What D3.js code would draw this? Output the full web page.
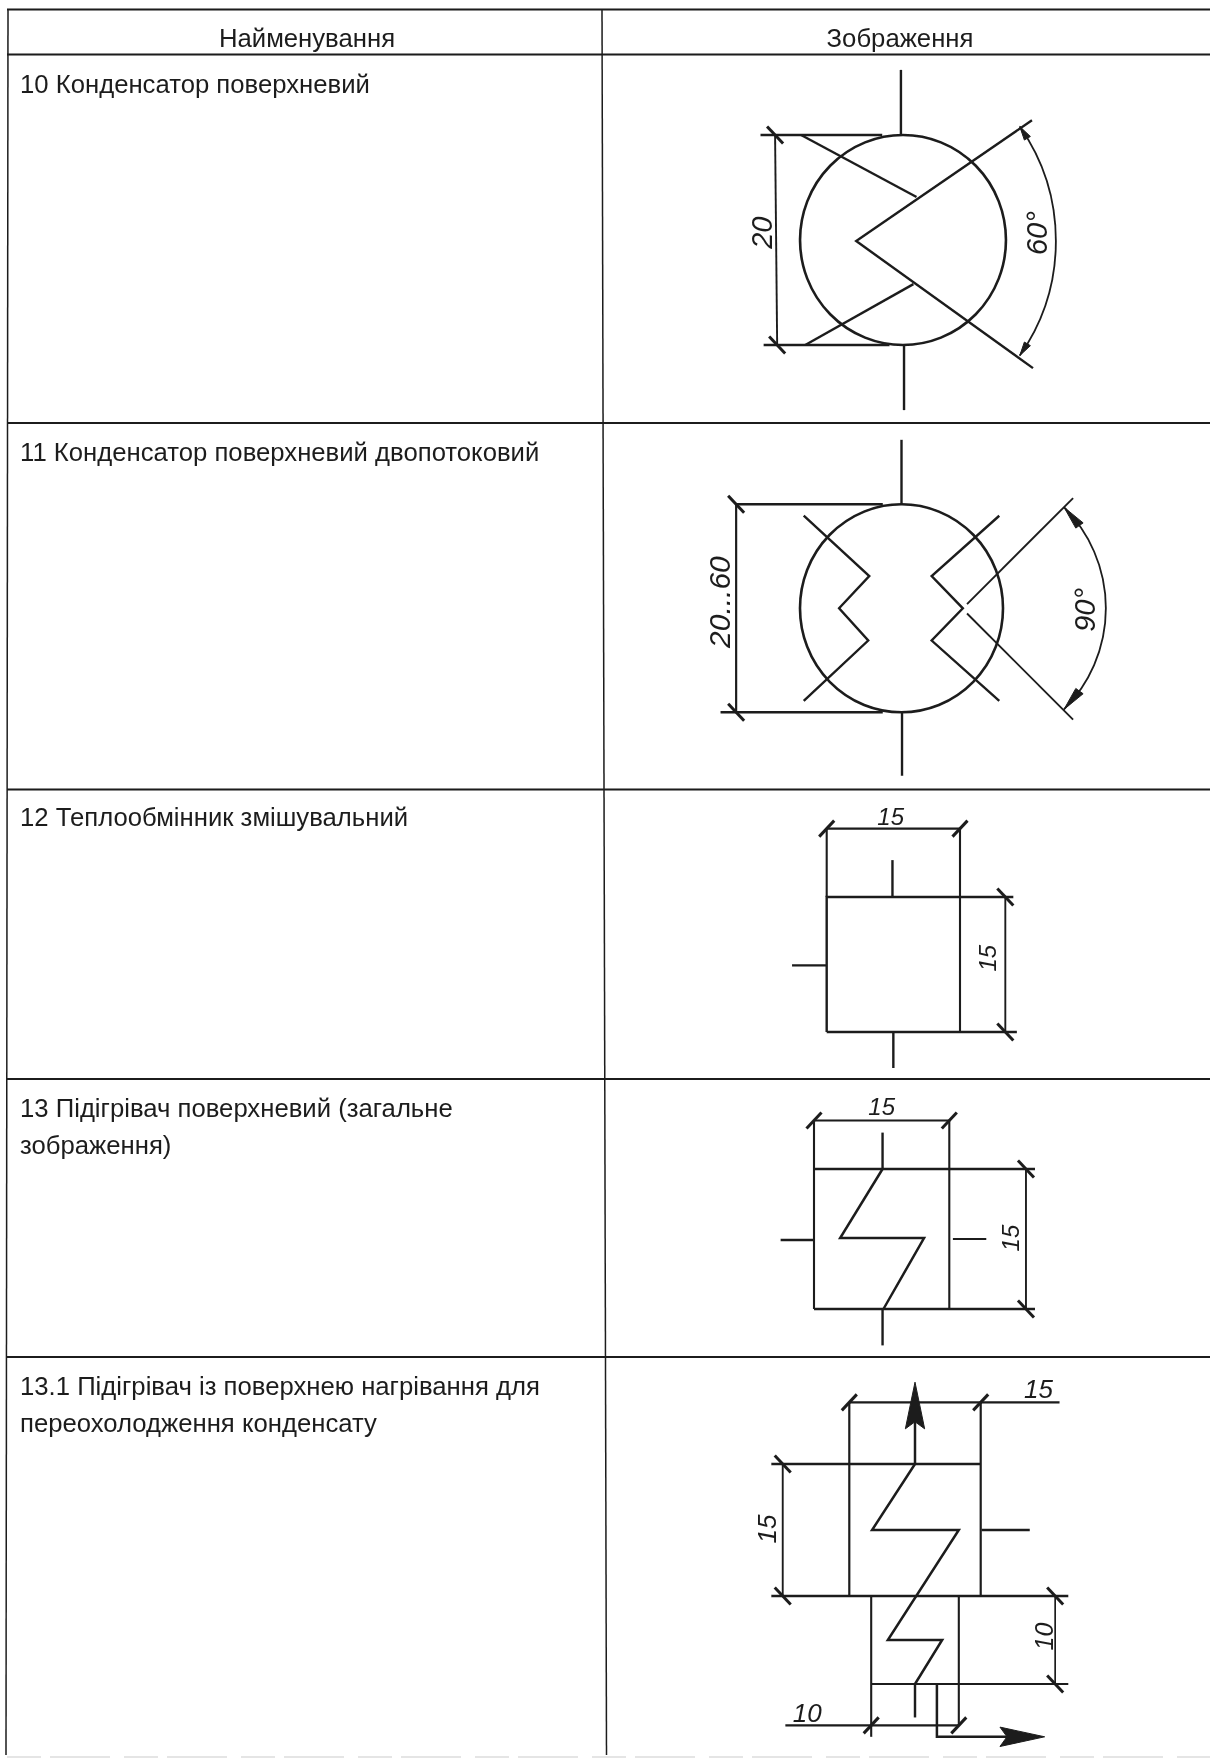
<!DOCTYPE html>
<html>
<head>
  <meta charset="utf-8">
  <title>Конденсатори та підігрівачі</title>
  <script src="https://d3js.org/d3.v7.min.js"></script>
  <style>
    html, body { margin: 0; background: #fff; }
    text { font-family: "Liberation Sans", Arial, sans-serif; fill: #1c1c1c; }
    .dim { font-style: italic; text-anchor: middle; dominant-baseline: central; }
  </style>
</head>

<body>
  <script>
    // table content
    const headers = ["Найменування", "Зображення"];
    const rowNames = [
      ["10 Конденсатор поверхневий"],
      ["11 Конденсатор поверхневий двопотоковий"],
      ["12 Теплообмінник змішувальний"],
      ["13 Підігрівач поверхневий (загальне", "зображення)"],
      ["13.1 Підігрівач із поверхнею нагрівання для", "переохолодження конденсату"]
    ];

    // dimension labels written on the drawings
    const dims10 = ["20", "60°"];
    const dims11 = ["20...60", "90°"];
    const dims12 = ["15", "15"];
    const dims13 = ["15", "15"];
    const dims131 = ["15", "15", "10", "10"];

    const width = 1210, height = 1759;
    const ink = "#1c1c1c";

    let svg = d3.select("body").append("svg")
      .attr("width", width)
      .attr("height", height)
      .style("display", "block");

    // scan softness
    svg.append("defs").append("filter")
      .attr("id", "soft")
      .append("feGaussianBlur")
      .attr("stdDeviation", 0.45);

    let root = svg.append("g").attr("filter", "url(#soft)");

    // ---- table grid ----
    const rowEdges = [54.5, 423, 789.5, 1079, 1357];

    let grid = root.append("g").attr("stroke", ink).attr("fill", "none");
    grid.append("line").attr("x1", 7).attr("x2", 1210).attr("y1", 9.5).attr("y2", 9.5).attr("stroke-width", 1.8);
    grid.selectAll(".row")
      .data(rowEdges)
      .enter()
      .append("line")
      .attr("class", "row")
      .attr("x1", 7).attr("x2", 1210)
      .attr("y1", d => d).attr("y2", d => d)
      .attr("stroke-width", 2);
    grid.append("line").attr("x1", 8).attr("x2", 6).attr("y1", 9).attr("y2", 1755).attr("stroke-width", 1.5);
    grid.append("line").attr("x1", 602).attr("x2", 606.5).attr("y1", 9).attr("y2", 1755).attr("stroke-width", 1.5);
    grid.append("line").attr("x1", 7).attr("x2", 1210).attr("y1", 1757).attr("y2", 1757)
      .attr("stroke-width", 1.2).attr("stroke", "#ccc").attr("stroke-dasharray", "34 9 60 14");

    // header and row text
    const textSize = 25.7, lineStep = 36.5;
    let headerX = [307, 900];
    root.selectAll(".head")
      .data(headers)
      .enter()
      .append("text")
      .attr("class", "head")
      .attr("x", (d, i) => headerX[i])
      .attr("y", 46.5)
      .attr("text-anchor", "middle")
      .style("font-size", textSize + "px")
      .text(d => d);

    let nameY = [93, 461, 826, 1117, 1395];
    rowNames.forEach((lines, i) => {
      root.selectAll(".name" + i)
        .data(lines)
        .enter()
        .append("text")
        .attr("class", "name" + i)
        .attr("x", 20)
        .attr("y", (d, j) => nameY[i] + j * lineStep)
        .style("font-size", textSize + "px")
        .text(d => d);
    });

    // ---- drawing helpers ----
    let line = d3.line();

    // one symbol: x/y scales map drawing millimetres to the page
    function symbol(xDomain, xRange, yDomain, yRange) {
      let x = d3.scaleLinear().domain(xDomain).range(xRange);
      let y = d3.scaleLinear().domain(yDomain).range(yRange);
      let g = root.append("g").attr("fill", "none").attr("stroke", ink).attr("stroke-linejoin", "miter");
      return {
        x: x, y: y, g: g,
        poly(pts, w) {
          g.append("path")
            .attr("d", line(pts.map(p => [x(p[0]), y(p[1])])))
            .attr("stroke-width", w || 2.4);
        },
        body(rx, ry) {
          g.append("ellipse")
            .attr("cx", x(0)).attr("cy", y(0))
            .attr("rx", x(rx) - x(0)).attr("ry", y(ry) - y(0))
            .attr("stroke-width", 2.6);
        },
        // dimension slash
        tick(mx, my, s) {
          let px = x(mx), py = y(my);
          let a = s > 0 ? [[px - 8, py - 8.5], [px + 8, py + 8.5]] : [[px - 7.5, py + 8], [px + 7.5, py - 8]];
          g.append("path").attr("d", line(a)).attr("stroke-width", 3);
        },
        label(txt, mx, my, size, rotate) {
          let px = x(mx), py = y(my);
          root.append("text")
            .attr("class", "dim")
            .attr("transform", "translate(" + px + "," + py + ")" + (rotate ? " rotate(-90)" : ""))
            .style("font-size", size + "px")
            .text(txt);
        },
        arrow(pts) {
          g.append("path")
            .attr("d", line(pts.map(p => [x(p[0]), y(p[1])])) + "Z")
            .attr("fill", ink)
            .attr("stroke-width", 1);
        }
      };
    }

    // angular dimension with arrowheads lying along the arc
    function angleDim(s, cx, cy, radius, halfDeg, headLen, headW) {
      let k = s.x(1) - s.x(0);
      let half = halfDeg * Math.PI / 180;
      let r = k * radius;
      let arc = d3.arc()
        .innerRadius(r)
        .outerRadius(r)
        .startAngle(Math.PI / 2 - half)
        .endAngle(Math.PI / 2 + half);
      s.g.append("path")
        .attr("transform", "translate(" + s.x(cx) + "," + s.y(cy) + ")")
        .attr("d", arc())
        .attr("stroke-width", 1.8);
      [-1, 1].forEach(sign => {
        let a0 = sign * half;
        let a1 = a0 - sign * headLen / r;
        let tip = [s.x(cx) + r * Math.cos(a0), s.y(cy) + r * Math.sin(a0)];
        let bx = s.x(cx) + r * Math.cos(a1), by = s.y(cy) + r * Math.sin(a1);
        let nx = Math.cos(a1), ny = Math.sin(a1);
        s.g.append("path")
          .attr("d", line([tip, [bx + nx * headW, by + ny * headW], [bx - nx * headW, by - ny * headW]]) + "Z")
          .attr("fill", ink)
          .attr("stroke-width", 1);
      });
    }

    // ---- 10 ----
    let s10 = symbol([-10, 10], [799, 1007], [-10, 10], [135, 345]);
    s10.body(9.9, 10);
    s10.poly([[-0.2, -16.2], [-0.2, -10]]);
    s10.poly([[0.1, 10], [0.1, 16.2]]);
    s10.poly([[12.4, -11.4], [-4.5, 0.1], [12.5, 12.2]]);
    s10.poly([[-9.8, -10], [1.3, -4.1]]);
    s10.poly([[-9.4, 10], [1, 4.2]]);
    s10.poly([[-13.7, -10], [-2, -10]]);
    s10.poly([[-13.4, 10], [-1.3, 10]]);
    s10.poly([[-12.3, -10], [-12.1, 10]], 1.9);
    s10.tick(-12.3, -10, 1);
    s10.tick(-12.1, 10, 1);
    angleDim(s10, -4.5, 0.1, 19.2, 35, 14, 3.5);
    s10.label(dims10[0], -13.6, -0.7, 29, true);
    s10.label(dims10[1], 12.9, -0.65, 29, true);

    // ---- 11 ----
    let s11 = symbol([-10, 10], [797.5, 1005.5], [-10, 10], [504.3, 712.3]);
    s11.body(9.76, 10);
    s11.poly([[0, -16.2], [0, -10]]);
    s11.poly([[0.05, 10], [0.05, 16.1]]);
    s11.poly([[-15.9, -10], [-1.8, -10]]);
    s11.poly([[-17.4, 10], [-1.8, 10]]);
    s11.poly([[-15.9, -10], [-15.9, 10]], 2.2);
    s11.tick(-15.9, -10, 1);
    s11.tick(-15.9, 10, 1);
    s11.poly([[-9.4, -8.9], [-3.1, -3.1], [-6, 0], [-3.2, 3.1], [-9.4, 8.9]]);
    s11.poly([[9.4, -8.9], [2.9, -3.1], [5.9, 0], [2.9, 3.1], [9.4, 8.9]]);
    s11.poly([[6.3, -0.4], [16.5, -10.6]], 1.9);
    s11.poly([[6.3, 0.5], [16.5, 10.7]], 1.9);
    angleDim(s11, 5.9, 0, 13.75, 45, 24, 4.5);
    s11.label(dims11[0], -17.5, -0.6, 30, true);
    s11.label(dims11[1], 17.6, 0.15, 29, true);

    // ---- 12 ----
    let s12 = symbol([0, 15], [826.7, 960], [0, 15], [897, 1032]);
    s12.poly([[0, 15], [0, 0], [21, 0]]);
    s12.poly([[0, 15], [21.4, 15]]);
    s12.poly([[0, -7.6], [0, 0]], 2.1);
    s12.poly([[15, -7.6], [15, 15]], 2.1);
    s12.poly([[0, -7.6], [15, -7.6]], 2.1);
    s12.poly([[20.1, 0], [20.1, 15]], 1.9);
    s12.tick(0, -7.6, -1);
    s12.tick(15, -7.6, -1);
    s12.tick(20.1, 0, 1);
    s12.tick(20.1, 15, 1);
    s12.poly([[7.4, -4.1], [7.4, 0]]);
    s12.poly([[7.5, 15], [7.5, 19]]);
    s12.poly([[-3.9, 7.6], [0, 7.6]]);
    s12.label(dims12[0], 7.2, -9, 24, false);
    s12.label(dims12[1], 18.1, 6.8, 24, true);

    // ---- 13 ----
    let s13 = symbol([0, 15], [814, 949.3], [0, 15], [1169, 1309]);
    s13.poly([[0, 0], [24.5, 0]]);
    s13.poly([[0, 15], [24.5, 15]]);
    s13.poly([[0, -5.2], [0, 15]], 2.1);
    s13.poly([[15, -5.2], [15, 15]], 2.1);
    s13.poly([[0, -5.2], [15, -5.2]], 2.1);
    s13.poly([[23.5, 0], [23.5, 15]], 1.9);
    s13.tick(0, -5.2, -1);
    s13.tick(15, -5.2, -1);
    s13.tick(23.5, 0, 1);
    s13.tick(23.5, 15, 1);
    s13.poly([[7.6, -3.9], [7.6, 0]]);
    s13.poly([[7.6, 15], [7.6, 18.9]]);
    s13.poly([[-3.7, 7.6], [0, 7.6]]);
    s13.poly([[15.4, 7.5], [19.1, 7.5]], 1.9);
    s13.poly([[7.6, 0], [2.9, 7.4], [12.2, 7.4], [7.7, 15]], 2.5);
    s13.label(dims13[0], 7.5, -6.7, 24, false);
    s13.label(dims13[1], 21.8, 7.4, 24, true);

    // ---- 13.1 ----
    let s131 = symbol([0, 15], [849.3, 980.7], [0, 15], [1464, 1596]);
    s131.poly([[-8.9, 0], [15, 0]]);
    s131.poly([[-8.9, 15], [25, 15]]);
    s131.poly([[0, -7], [0, 15]], 2.2);
    s131.poly([[15, -7], [15, 15]], 2.2);
    s131.poly([[0, -7], [24, -7]], 2.1);
    s131.poly([[-7.6, 0], [-7.6, 15]], 1.9);
    s131.poly([[2.5, 15], [2.5, 31]], 2.1);
    s131.poly([[12.5, 15], [12.5, 29.7]], 2.1);
    s131.poly([[2.5, 25], [25, 25]], 2);
    s131.poly([[23.5, 15], [23.5, 25]], 1.7);
    s131.poly([[-7.3, 29.7], [12.5, 29.7]], 2.1);
    s131.tick(0, -7, -1);
    s131.tick(15, -7, -1);
    s131.tick(-7.6, 0, 1);
    s131.tick(-7.6, 15, 1);
    s131.tick(23.5, 15, 1);
    s131.tick(23.5, 25, 1);
    s131.tick(2.5, 29.7, -1);
    s131.tick(12.5, 29.7, -1);
    s131.poly([[7.5, 0], [2.6, 7.5], [12.5, 7.5], [4.4, 20], [10.6, 20], [7.5, 25]], 2.5);
    s131.poly([[7.5, 25], [7.5, 28.8]]);
    s131.poly([[7.5, 0], [7.5, -5]], 2.5);
    s131.arrow([[7.5, -9.3], [8.6, -4], [7.5, -4.8], [6.4, -4]]);
    s131.poly([[15.1, 7.5], [20.6, 7.5]]);
    s131.poly([[10, 25], [10, 31], [18, 31]], 2.5);
    s131.arrow([[22.3, 31], [17.2, 32.1], [18, 31], [17.2, 29.9]]);
    s131.label(dims131[0], 21.6, -8.5, 26, false);
    s131.label(dims131[1], -9.4, 7.4, 26, true);
    s131.label(dims131[2], 22.2, 19.6, 25, true);
    s131.label(dims131[3], -4.8, 28.3, 26, false);
  </script>
</body>
</html>
